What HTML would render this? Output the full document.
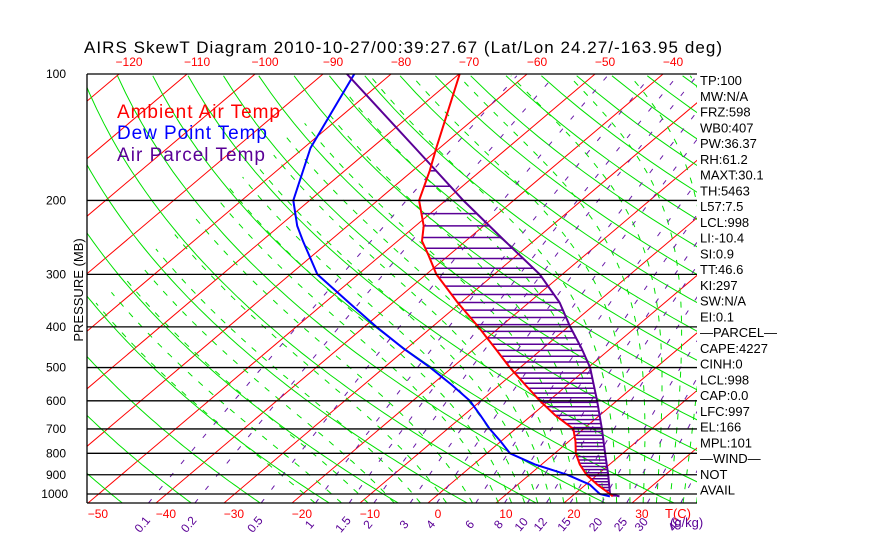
<!DOCTYPE html>
<html><head><meta charset="utf-8"><style>
html,body{margin:0;padding:0;background:#fff;}
svg{display:block;font-family:"Liberation Sans",sans-serif;}
</style></head><body>
<svg id="chart" width="870" height="560" viewBox="0 0 870 560">
<rect width="870" height="560" fill="#fff"/>
<defs><clipPath id="plotclip"><rect x="87" y="74" width="610" height="429"/></clipPath></defs>
<text x="84" y="53" font-size="17" textLength="638" fill="#000">AIRS SkewT Diagram 2010-10-27/00:39:27.67 (Lat/Lon 24.27/-163.95 deg)</text>
<g id="grid" clip-path="url(#plotclip)"></g>
<g id="series" clip-path="url(#plotclip)"></g>
<g id="axes"></g>
<text transform="translate(83,290) rotate(-90)" text-anchor="middle" font-size="13" fill="#000">PRESSURE (MB)</text>
<text x="117" y="118" font-size="19" fill="#ff0000" textLength="163">Ambient Air Temp</text>
<text x="117" y="139" font-size="19" fill="#0000ff" textLength="150">Dew Point Temp</text>
<text x="117" y="161" font-size="19" fill="#5a0096" textLength="148">Air Parcel Temp</text>
<g id="info"></g>
</svg>
<script>
// ---- data ----
const pressureLevels = [100,200,300,400,500,600,700,800,900,1000];
const topTempTicks = [-120,-110,-100,-90,-80,-70,-60,-50,-40];
const bottomTempTicks = [-50,-40,-30,-20,-10,0,10,20,30];
const mixingRatios = [0.1,0.2,0.5,1,1.5,2,3,4,6,8,10,12,15,20,25,30,40];
const mixingLabels = ["0.1","0.2","0.5","1","1.5","2","3","4","6","8","10","12","15","20","25","30","40"];
const dryThetas = [195,205,215,225,235,245,255,265,275,285,295,305,315,325,335,345,355,365,375,385,395,405,415,425,435,445,455,465,475,485,495,505,515,525,535];
const moistStarts = [-20,-16,-12,-8,-4,0,4,8,10,12,14,16,18,20,22,24,26,28,30,32,34,36,38,40];
const tempP = [100,150,170,200,230,250,270,300,350,400,450,500,550,600,650,700,750,800,850,900,950,1000,1013];
const tempT = [-69.9,-60.5,-57.5,-53.9,-48.8,-46.4,-43,-38.5,-30.5,-23.2,-17,-11.5,-6.2,-1.3,3.5,8.5,11,13.1,15.6,18.4,21.7,25.2,26];
const dewP = [100,150,200,230,250,300,350,400,450,500,550,600,650,700,750,800,850,900,950,1000,1013];
const dewT = [-85.4,-79,-72.4,-67.4,-63.9,-56,-46.5,-38.2,-30.5,-23.2,-17,-11.6,-7.5,-3.8,0,3.4,9,15.6,20.6,23.7,25.6];
const parcelP = [100,150,200,250,300,350,400,450,500,600,700,800,900,1000,1013];
const parcelT = [-86.5,-63.6,-47.4,-34.2,-23.3,-15.5,-9.7,-4.3,0.3,7.1,12.7,17.4,21.6,25.2,27];
const infoLabels = ["TP:100","MW:N/A","FRZ:598","WB0:407","PW:36.37","RH:61.2","MAXT:30.1","TH:5463","L57:7.5","LCL:998","LI:-10.4","SI:0.9","TT:46.6","KI:297","SW:N/A","EI:0.1","\u2014PARCEL\u2014","CAPE:4227","CINH:0","LCL:998","CAP:0.0","LFC:997","EL:166","MPL:101","\u2014WIND\u2014"," NOT","AVAIL"];

// ---- axes functions ----
const NS="http://www.w3.org/2000/svg";
const yBottom=503;
function yOf(p){return 494-182.4*Math.log(1000/p);}
function xOf(T,p){return 428+6.8*T+1.182*(yBottom-yOf(p));}
function mk(tag,attrs,parent){const e=document.createElementNS(NS,tag);for(const k in attrs)e.setAttribute(k,attrs[k]);parent.appendChild(e);return e;}
const grid=document.getElementById('grid'),series=document.getElementById('series'),axes=document.getElementById('axes'),info=document.getElementById('info');
function pathFrom(pts){return pts.map((q,i)=>(i?'L':'M')+q[0].toFixed(1)+','+q[1].toFixed(1)).join('');}

// isotherms
for(let T=-160;T<=50;T+=10){
  const e=mk('line',{x1:xOf(T,1051),y1:yOf(1051),x2:xOf(T,100),y2:yOf(100),stroke:'#ff0000','stroke-width':1},grid);
  
  
}
// dry adiabats
dryThetas.forEach(th=>{
  const pts=[];for(let p=1051;p>=99;p-=10){pts.push([xOf(th*Math.pow(p/1000,0.2857)-273.15,p),yOf(p)]);}
  const e=mk('path',{d:pathFrom(pts),fill:'none',stroke:'#00e000','stroke-width':1},grid);
  
  
});
// moist adiabats
function es(T){return 6.112*Math.exp(17.67*T/(T+243.5));}
moistStarts.forEach(t0=>{
  let T=t0+273.15;const pts=[];
  let Tl=T;
  for(let pp=1000;pp<1051;pp+=5){const rs=0.622*es(Tl-273.15)/(pp-es(Tl-273.15));const d=(287*Tl+2.5e6*rs)/(1004+2.5e6*2.5e6*rs*0.622/(287*Tl*Tl))/pp;Tl+=d*5;}
  T=Tl;
  for(let p=1051;p>=100;p-=5){pts.push([xOf(T-273.15,p),yOf(p)]);if(T<190)break;const e_=es(T-273.15);const rs=0.622*e_/Math.max(p-e_,1);const d=(287*T+2.5e6*rs)/(1004+2.5e6*2.5e6*rs*0.622/(287*T*T))/p;T-=d*5;}
  const e=mk('path',{d:pathFrom(pts),fill:'none',stroke:'#00e000','stroke-width':1,'stroke-dasharray':'6,8'},grid);
  
  
});
// mixing ratio lines
function tdFromW(w,p){const e=(w/1000)*p/(0.622+w/1000);const l=Math.log(e/6.112);return 243.5*l/(17.67-l);}
mixingRatios.forEach((w,i)=>{
  const pts=[];for(let p=1051;p>=100;p-=10){pts.push([xOf(tdFromW(w,p),p),yOf(p)]);}
  const e=mk('path',{d:pathFrom(pts),fill:'none',stroke:'#6a1aa8','stroke-width':1,'stroke-dasharray':'5,12'},grid);
  
  
  const lx=xOf(tdFromW(w,1051),1051)-3;
  const t=mk('text',{x:lx,y:527,transform:'rotate(-50 '+lx+' 527)','font-size':12,fill:'#5a0096','text-anchor':'middle'},axes);
  t.textContent=mixingLabels[i];
  
  
});
// pressure lines & labels
pressureLevels.forEach(p=>{
  const y=yOf(p);
  const l=mk('line',{x1:87,y1:y,x2:697,y2:y,stroke:'#000','stroke-width':1.3},axes);
  
  
  const t=mk('text',{x:p>=1000?68:66,y:y+4,'font-size':12,fill:'#000','text-anchor':'end'},axes);
  t.textContent=p;
  
  
});
mk('line',{x1:87,y1:74,x2:87,y2:503,stroke:'#000','stroke-width':1.3},axes);
mk('line',{x1:87,y1:503,x2:697,y2:503,stroke:'#000','stroke-width':1.3},axes);
topTempTicks.forEach(T=>{
  const t=mk('text',{x:xOf(T,100)+10,y:66,'font-size':12,fill:'#ff0000','text-anchor':'middle'},axes);
  t.textContent=String(T).replace('-','\u2212');
  
  
});
bottomTempTicks.forEach(T=>{
  const t=mk('text',{x:xOf(T,1051)+10,y:518,'font-size':12,fill:'#ff0000','text-anchor':'middle'},axes);
  t.textContent=String(T).replace('-','\u2212');
  
  
});
{const t=mk('text',{x:678,y:518,'font-size':13,fill:'#ff0000','text-anchor':'middle'},axes);t.textContent='T(C)';


const g=mk('text',{x:670,y:527,'font-size':13,fill:'#5a0096'},axes);g.textContent='(g/kg)';

}

// hatching between parcel and temp
function interp(P,V,p){for(let i=0;i<P.length-1;i++){if(p>=P[i]&&p<=P[i+1]){const f=Math.log(p/P[i])/Math.log(P[i+1]/P[i]);return V[i]+f*(V[i+1]-V[i]);}}return null;}
for(let p=1010;p>=155;p-=15){
  const tp=interp(parcelP,parcelT,p),ta=interp(tempP,tempT,p);
  if(tp!==null&&ta!==null&&tp>ta){
    const l=mk('line',{x1:xOf(ta,p),y1:yOf(p),x2:xOf(tp,p),y2:yOf(p),stroke:'#5a0096','stroke-width':1.5},series);
    
    
  }
}
function drawSeries(P,V,color,name,w){
  const pts=P.map((p,i)=>[xOf(V[i],p),yOf(p)]);
  const e=mk('path',{d:pathFrom(pts),fill:'none',stroke:color,'stroke-width':w},series);
  
  
}
drawSeries(dewP,dewT,'#0000ff','dew-point-line',2);
drawSeries(parcelP,parcelT,'#5a0096','parcel-line',2);
drawSeries(tempP,tempT,'#ff0000','ambient-temp-line',2);

// info column
infoLabels.forEach((s,i)=>{
  const t=mk('text',{x:700,y:85+i*15.75,'font-size':13,fill:'#000'},info);
  t.textContent=s;
  
  
});
</script>
</body></html>
